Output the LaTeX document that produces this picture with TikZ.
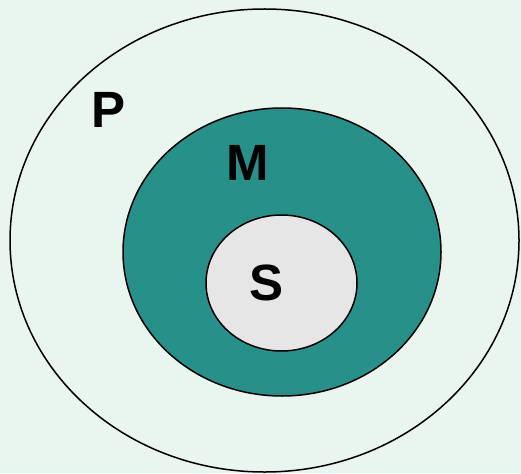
\documentclass[tikz,border=0pt]{standalone}
\usepackage{fontspec}
\setmainfont{Liberation Sans}
\definecolor{bgmint}{HTML}{E9F5EF}
\definecolor{tealfill}{HTML}{259189}
\definecolor{greyfill}{HTML}{E6E6E6}
\tikzset{
  ring/.style={draw=black, line width=1.5pt},
  lab/.style={font=\fontsize{51}{51}\bfseries\selectfont, text=black, inner sep=0pt}
}
\begin{document}
\begin{tikzpicture}[x=1pt,y=-1pt]
  \fill[bgmint] (0,0) rectangle (521,473);
  \useasboundingbox (0,0) rectangle (521,473);
  \draw[ring] (264.5,240.5) ellipse [x radius=254.5, y radius=231.5];
  \draw[ring, fill=tealfill] (282,252) ellipse [x radius=159, y radius=144];
  \draw[ring, fill=greyfill] (281.5,283) ellipse [x radius=75.5, y radius=68];
  \node[lab] (p) at (108.5,110) {P};
  \node[lab] (m) at (248,162.5) {M};
  \node[lab] (s) at (266.5,282.5) {S};
\end{tikzpicture}
\end{document}
